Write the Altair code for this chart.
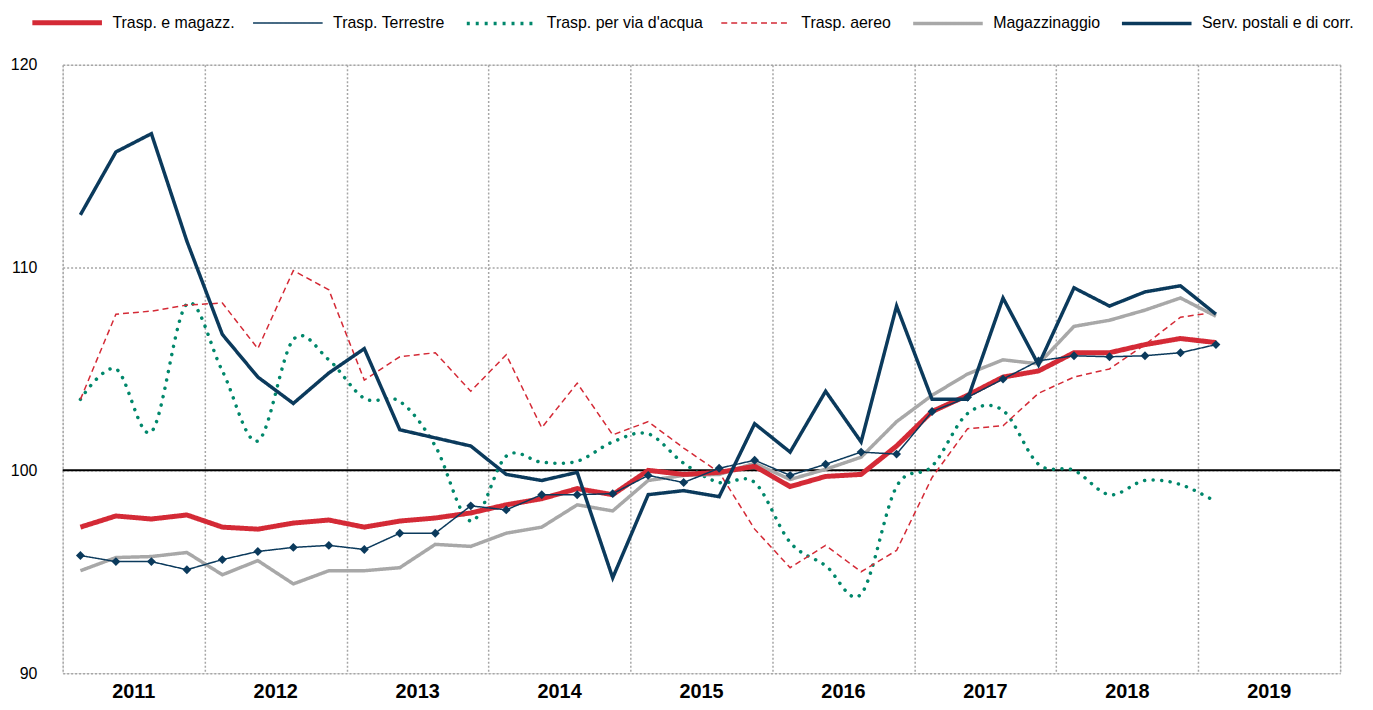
import altair as alt
import pandas as pd

years = [2011, 2012, 2013, 2014, 2015, 2016, 2017, 2018, 2019]
quarters = [(y, q) for y in years for q in (1, 2, 3, 4)][:33]

series_names = [
    "Trasp. e magazz.",
    "Trasp. Terrestre",
    "Trasp. per via d'acqua",
    "Trasp. aereo",
    "Magazzinaggio",
    "Serv. postali e di corr.",
]

trasp_magazz = [97.2, 97.75, 97.6, 97.8, 97.2, 97.1, 97.4, 97.55, 97.2, 97.5, 97.65, 97.9,
                98.3, 98.6, 99.1, 98.8, 100.0, 99.8, 99.9, 100.2, 99.2, 99.7, 99.8, 101.2,
                102.9, 103.7, 104.6, 104.9, 105.8, 105.8, 106.2, 106.5, 106.3]
terrestre = [95.8, 95.5, 95.5, 95.1, 95.6, 96.0, 96.2, 96.3, 96.1, 96.9, 96.9, 98.25,
             98.05, 98.8, 98.8, 98.85, 99.75, 99.4, 100.1, 100.5, 99.75, 100.3, 100.9, 100.8,
             102.9, 103.6, 104.5, 105.4, 105.65, 105.6, 105.65, 105.8, 106.2]
acqua = [103.5, 105.0, 101.9, 108.2, 104.9, 101.45, 106.45, 105.45, 103.55, 103.4, 101.2, 97.5,
         100.7, 100.4, 100.45, 101.4, 101.8, 100.35, 99.4, 99.4, 96.45, 95.3, 93.9, 99.2,
         100.2, 102.8, 102.95, 100.3, 100.0, 98.8, 99.5, 99.3, 98.45]
aereo = [103.5, 107.7, 107.85, 108.15, 108.25, 106.0, 109.85, 108.9, 104.45, 105.6, 105.8, 103.9,
         105.7, 102.1, 104.3, 101.75, 102.4, 101.1, 99.9, 97.1, 95.2, 96.3, 95.0, 96.05,
         99.65, 102.05, 102.2, 103.8, 104.6, 105.0, 106.2, 107.55, 107.8]
magazzinaggio = [95.05, 95.7, 95.75, 95.95, 94.85, 95.55, 94.4, 95.05, 95.05, 95.2, 96.35, 96.25,
                 96.9, 97.2, 98.3, 98.0, 99.5, 99.75, 99.8, 100.35, 99.55, 100.05, 100.65, 102.4,
                 103.7, 104.75, 105.45, 105.25, 107.1, 107.4, 107.9, 108.5, 107.6]
postali = [112.6, 115.7, 116.6, 111.3, 106.7, 104.6, 103.3, 104.8, 106.0, 102.0, 101.6, 101.2,
           99.8, 99.5, 99.9, 94.7, 98.8, 99.0, 98.7, 102.3, 100.9, 103.9, 101.4, 108.1,
           103.5, 103.5, 108.5, 105.2, 109.0, 108.1, 108.8, 109.1, 107.7]

colors = ["#d42a36", "#0b3a5c", "#00876b", "#d42a36", "#a8a8a8", "#0b3a5c"]
dashes = [[1, 0], [1, 0], [3, 6], [6, 4], [1, 0], [1, 0]]
widths = [5, 1.5, 3.5, 1.5, 3.5, 3.5]

# draw order (bottom to top)
draw_order = [
    ("Trasp. per via d'acqua", acqua),
    ("Trasp. aereo", aereo),
    ("Magazzinaggio", magazzinaggio),
    ("Trasp. e magazz.", trasp_magazz),
    ("Trasp. Terrestre", terrestre),
    ("Serv. postali e di corr.", postali),
]
rows = []
for name, vals in draw_order:
    for (y, q), v in zip(quarters, vals):
        rows.append({"serie": name, "t": y + (q - 0.5) / 4, "v": v})
df = pd.DataFrame(rows)

x_enc = alt.X("t:Q", scale=alt.Scale(domain=[2011, 2020], nice=False, zero=False),
              axis=alt.Axis(values=list(range(2011, 2021)), format="d", title=None,
                            labelExpr="datum.value < 2020 ? datum.label : ''",
                            labelOffset=71, labelAlign="center", labelFontWeight="bold",
                            labelFontSize=20, labelPadding=8, labelColor="black",
                            ticks=False, domain=False, grid=True, gridColor="#a6a6a6",
                            gridDash=[2, 2], gridWidth=1.5, labelFont="Liberation Sans"))
y_enc = alt.Y("v:Q", scale=alt.Scale(domain=[90, 120], nice=False, zero=False),
              axis=alt.Axis(values=[90, 100, 110, 120], title=None, labelFontSize=16,
                            labelPadding=26, labelColor="black", ticks=False, domain=False,
                            grid=True, gridColor="#a6a6a6", gridDash=[2, 2], gridWidth=1.5,
                            labelFont="Liberation Sans"))

legend = alt.Legend(title=None, orient="none", legendX=-33, legendY=-80, direction="horizontal",
                    symbolType="stroke", symbolSize=4900, labelFontSize=16, labelColor="black",
                    labelFont="Liberation Sans", labelOffset=8, columnPadding=14,
                    columns=6, labelLimit=300)

color_enc = alt.Color("serie:N", scale=alt.Scale(domain=series_names, range=colors), legend=legend)
dash_enc = alt.StrokeDash("serie:N", scale=alt.Scale(domain=series_names, range=dashes), legend=legend)
width_enc = alt.StrokeWidth("serie:N", scale=alt.Scale(type="ordinal", domain=series_names, range=widths),
                            legend=legend)

base = alt.Chart(df)

ref = alt.Chart(pd.DataFrame({"r": [100]})).mark_rule(color="black", strokeWidth=2).encode(y="r:Q")

green = base.transform_filter(alt.datum.serie == "Trasp. per via d'acqua").mark_line(
    interpolate="cardinal", strokeCap="round", strokeDash=[0.1, 8.5]
).encode(x=x_enc, y=y_enc, color=color_enc, strokeWidth=width_enc)

others = base.transform_filter(alt.datum.serie != "Trasp. per via d'acqua").mark_line(
    strokeJoin="miter"
).encode(x=x_enc, y=y_enc, color=color_enc, strokeDash=dash_enc, strokeWidth=width_enc)

diamonds = base.transform_filter(alt.datum.serie == "Trasp. Terrestre").mark_point(
    shape="diamond", filled=True, size=80, color="#0b3a5c", opacity=1
).encode(x=x_enc, y=y_enc)

chart = alt.layer(ref, green, others, diamonds).properties(
    width=1285, height=612,
    autosize=alt.AutoSizeParams(type="none"),
    padding={"left": 55, "top": 55, "right": 25, "bottom": 35},
).configure_view(stroke=None).configure(font="Liberation Sans")

chart.save("out.html", embed_options={"renderer": "svg", "actions": False})
